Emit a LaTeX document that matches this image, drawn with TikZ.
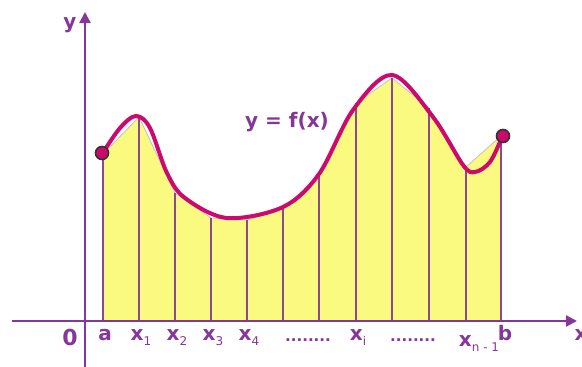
\documentclass[tikz,border=0pt]{standalone}
\usepackage{fontspec}
\setmainfont{DejaVu Sans}
\usepackage{xcolor}
\usetikzlibrary{arrows.meta, positioning}
\definecolor{axispurple}{HTML}{86359A}
\definecolor{strippurple}{HTML}{8A4A92}
\definecolor{curvemag}{HTML}{CC0A6E}
\definecolor{areayellow}{HTML}{FAFA80}
\definecolor{chordgrey}{HTML}{C9BACB}
\newcommand{\subx}[1]{\raisebox{-5pt}{\fontsize{12}{12}\selectfont\mdseries #1}}

\begin{document}
\begin{tikzpicture}[x=1pt, y=-1pt,
    axis/.style={axispurple, line width=2.2pt, -{Triangle[length=11pt, width=11pt]}},
    strip/.style={strippurple, line width=2pt},
    lbl/.style={font=\fontsize{20}{20}\selectfont\bfseries, text=axispurple, inner sep=0pt, anchor=base},
    endpt/.style={circle, draw=black!80, line width=1.6pt, fill=curvemag, minimum size=13pt, inner sep=0pt}
]
    \useasboundingbox (0,0) rectangle (582,367);

    \coordinate (xstart) at (12,321);
    \coordinate (xtip) at (577,321);
    \coordinate (ystart) at (85,370);
    \coordinate (ytip) at (85,12);

    % partition points x_0 ... x_11
    \foreach \i/\px/\py in {0/103/154, 1/139/117, 2/175/193, 3/211/218, 4/247/220, 5/283/209,
                            6/319/175, 7/356/103, 8/392/78, 9/429/108, 10/466/167, 11/501/136} {
        \coordinate (b\i) at (\px,321);
        \coordinate (t\i) at (\px,\py);
    }

    \fill[areayellow] (b0) -- (t0) -- (t1) -- (t2) -- (t3) -- (t4) -- (t5) -- (t6)
        -- (t7) -- (t8) -- (t9) -- (t10) -- (t11) -- (b11) -- cycle;
    \draw[chordgrey, line width=0.8pt] (t0) -- (t1) -- (t2) -- (t3) -- (t4) -- (t5) -- (t6)
        -- (t7) -- (t8) -- (t9) -- (t10) -- (t11);
    \foreach \i in {0,...,11} \draw[strip] (b\i) -- (t\i);

    \draw[axis] (xstart) -- (xtip);
    \draw[axis] (ystart) -- (ytip);

    % the function
    \draw[curvemag, line width=4pt, line cap=round] plot[smooth, tension=0.55] coordinates {
        (102,154) (120,128) (136,116) (150,128) (167,173) (185,198) (227,218) (283,207)
        (319,174) (353,110) (392,75) (433,117) (463,165) (475,172) (490,162) (502,137)};
    \node[endpt] (fa) at (102,153) {};
    \node[endpt] (fb) at (503,136) {};

    \node[lbl] (flabel) at (287,127) {y = f(x)};

    % axis labels
    \node[lbl] (ylabel) at (70,28) {y};
    \node[lbl] (xlabel) at (581,340) {x};
    \node[lbl, font=\fontsize{22}{22}\selectfont\bfseries] (zero) at (70,345) {0};
    \node[lbl] (la) at (105,340) {a};
    \node[lbl] (lx1) at (141,340) {x\subx{1}};
    \node[lbl] (lx2) at (177,340) {x\subx{2}};
    \node[lbl] (lx3) at (213,340) {x\subx{3}};
    \node[lbl] (lx4) at (249,340) {x\subx{4}};
    \node[lbl, font=\fontsize{15}{15}\selectfont\bfseries] (dotsl) at (308,341) {........};
    \node[lbl] (lxi) at (358,340) {x\subx{i}};
    \node[lbl, font=\fontsize{15}{15}\selectfont\bfseries] (dotsr) at (413,341) {........};
    \node[lbl] (lxn) at (479,346) {x\subx{n - 1}};
    \node[lbl] (lb) at (505,340) {b};
\end{tikzpicture}
\end{document}
